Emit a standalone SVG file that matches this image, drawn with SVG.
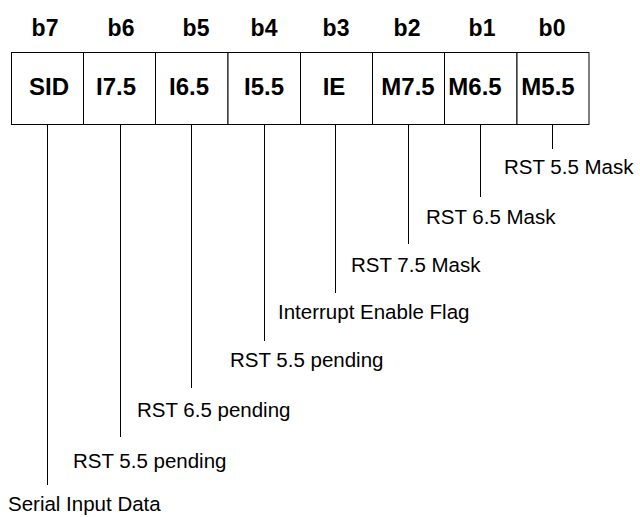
<svg xmlns="http://www.w3.org/2000/svg" width="640" height="517" viewBox="0 0 640 517">
<style>
.hd{font-family:"Liberation Sans",Arial,sans-serif;font-weight:bold;font-size:23px;text-anchor:middle;fill:#000}
.bx{font-family:"Liberation Sans",Arial,sans-serif;font-weight:bold;font-size:24px;text-anchor:middle;fill:#000}
.lb{font-family:"Liberation Sans",Arial,sans-serif;font-size:20.5px;fill:#000}
.cell{fill:#fff;stroke:#000;stroke-width:1}
.ln{stroke:#000;stroke-width:1;fill:none}
</style>
<rect width="640" height="517" fill="#fff"/>
<g id="headers">
<text class="hd" x="45" y="36">b7</text>
<text class="hd" x="121" y="36">b6</text>
<text class="hd" x="196" y="36">b5</text>
<text class="hd" x="264" y="36">b4</text>
<text class="hd" x="336" y="36">b3</text>
<text class="hd" x="407" y="36">b2</text>
<text class="hd" x="482" y="36">b1</text>
<text class="hd" x="552" y="36">b0</text>
</g>
<g id="b7"><rect class="cell" x="11.5" y="52.5" width="72" height="72"/><text class="bx" x="49" y="95">SID</text></g>
<g id="b6"><rect class="cell" x="83.5" y="52.5" width="72" height="72"/><text class="bx" x="116" y="95">I7.5</text></g>
<g id="b5"><rect class="cell" x="155.5" y="52.5" width="72.5" height="72"/><text class="bx" x="189" y="95">I6.5</text></g>
<g id="b4"><rect class="cell" x="228" y="52.5" width="72.5" height="72"/><text class="bx" x="264" y="95">I5.5</text></g>
<g id="b3"><rect class="cell" x="300.5" y="52.5" width="72" height="72"/><text class="bx" x="334" y="95">IE</text></g>
<g id="b2"><rect class="cell" x="372.5" y="52.5" width="72" height="72"/><text class="bx" x="408" y="95">M7.5</text></g>
<g id="b1"><rect class="cell" x="444.5" y="52.5" width="72.5" height="72"/><text class="bx" x="475" y="95">M6.5</text></g>
<g id="b0"><rect class="cell" x="517" y="52.5" width="72" height="72"/><text class="bx" x="548" y="95">M5.5</text></g>
<g id="connectors">
<line class="ln" x1="47.5" y1="124.5" x2="47.5" y2="485"/>
<line class="ln" x1="120.5" y1="124.5" x2="120.5" y2="437"/>
<line class="ln" x1="191.5" y1="124.5" x2="191.5" y2="388"/>
<line class="ln" x1="264.5" y1="124.5" x2="264.5" y2="341"/>
<line class="ln" x1="335.5" y1="124.5" x2="335.5" y2="293"/>
<line class="ln" x1="408.5" y1="124.5" x2="408.5" y2="244"/>
<line class="ln" x1="480.5" y1="124.5" x2="480.5" y2="197"/>
<line class="ln" x1="552.5" y1="124.5" x2="552.5" y2="149"/>
</g>
<g id="labels">
<text class="lb" x="8" y="511">Serial Input Data</text>
<text class="lb" x="73" y="468">RST 5.5 pending</text>
<text class="lb" x="137" y="417">RST 6.5 pending</text>
<text class="lb" x="230" y="367">RST 5.5 pending</text>
<text class="lb" x="278" y="319">Interrupt Enable Flag</text>
<text class="lb" x="351" y="272">RST 7.5 Mask</text>
<text class="lb" x="426" y="224">RST 6.5 Mask</text>
<text class="lb" x="504" y="174">RST 5.5 Mask</text>
</g>
</svg>
